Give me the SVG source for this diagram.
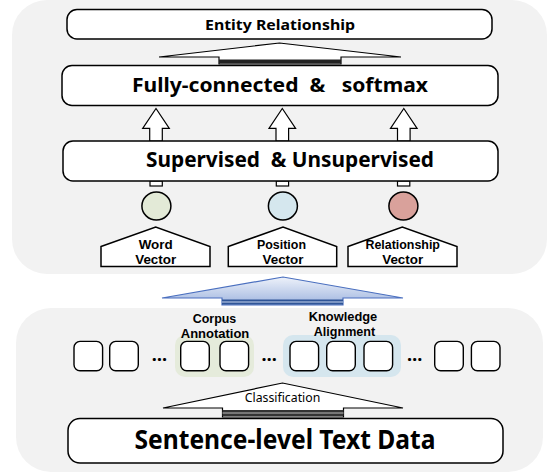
<svg xmlns="http://www.w3.org/2000/svg" width="551" height="475" viewBox="0 0 551 475">
  <defs>
    <style>
      .panel { fill: #f2f2f2; stroke: none; }
      .box { fill: #ffffff; stroke: #000000; stroke-width: 1.5; }
      .sq { fill: #ffffff; stroke: #000000; stroke-width: 1.4; }
      .arrow { fill: #ffffff; stroke: #000000; stroke-width: 1.2; stroke-linejoin: miter; }
      .t { font-family: "Noto Sans", "Open Sans", "Liberation Sans", sans-serif; fill: #000000; text-anchor: middle; }
      .b { font-weight: bold; }
      .lbl { font-family: "Liberation Sans", Arial, sans-serif; font-size: 13px; font-weight: bold; }
      .dots { font-size: 18px; font-weight: bold; }
      .pre { white-space: pre; }
    </style>
    <linearGradient id="blueFill" x1="0" y1="0" x2="0" y2="1">
      <stop offset="0" stop-color="#eef2fa"/>
      <stop offset="1" stop-color="#9fb5df"/>
    </linearGradient>
  </defs>

  <!-- background panels -->
  <rect class="panel" x="12" y="0" width="535" height="274" rx="35" ry="35"/>
  <rect class="panel" x="16" y="308" width="527" height="164" rx="35" ry="35"/>

  <!-- connectors -->
  <g id="connectors">
    <!-- Fully-connected -> Entity Relationship -->
    <polygon class="arrow" points="159,57 279.5,43 401,57 341,57 341,64 219,64 219,57"/>
    <rect x="219" y="59.5" width="122" height="4" fill="#222"/>
    <!-- Supervised -> Fully-connected -->
    <polygon class="arrow" points="156,108.5 169.3,128.3 162.3,128.3 162.3,141 149.7,141 149.7,128.3 142.7,128.3"/>
    <polygon class="arrow" points="282.3,108.5 295.6,128.3 288.6,128.3 288.6,141 276,141 276,128.3 269,128.3"/>
    <polygon class="arrow" points="403.8,108.5 417.1,128.3 410.1,128.3 410.1,141 397.5,141 397.5,128.3 390.5,128.3"/>
    <!-- stubs under Supervised box -->
    <rect class="arrow" x="150" y="181" width="12.3" height="5"/>
    <rect class="arrow" x="276.3" y="181" width="12.3" height="5"/>
    <rect class="arrow" x="397.5" y="181" width="12.3" height="5"/>
    <!-- bottom panel -> vectors (blue) -->
    <polygon points="162,298 283,277 403,298 343,298 343,305 222,305 222,298" fill="url(#blueFill)" stroke="#4a6fbf" stroke-width="1.2"/>
    <rect x="222" y="299.5" width="121" height="5" fill="#2f5597"/>
    <line x1="222" y1="302" x2="343" y2="302" stroke="#c9d6ee" stroke-width="1"/>
    <!-- Sentence-level -> tokens (Classification) -->
    <polygon class="arrow" points="163,408 282.5,383 403,408 343.5,408 343.5,417 222.5,417 222.5,408"/>
    <rect x="222.5" y="410" width="121" height="6" fill="#333"/>
    <line x1="222.5" y1="413" x2="343.5" y2="413" stroke="#bbb" stroke-width="1"/>
  </g>

  <g id="entity-relationship">
    <rect class="box" x="67" y="9.5" width="425" height="29.5" rx="10" ry="10"/>
    <text class="t b" x="280" y="30" font-size="14.5" textLength="150" lengthAdjust="spacingAndGlyphs">Entity Relationship</text>
  </g>

  <g id="fully-connected">
    <rect class="box" x="62" y="65.5" width="436" height="40" rx="10" ry="10"/>
    <text class="t b pre" x="280" y="92" font-size="19.5" textLength="296" lengthAdjust="spacingAndGlyphs" xml:space="preserve">Fully-connected  &amp;   softmax</text>
  </g>

  <g id="supervised">
    <rect class="box" x="63" y="141" width="435" height="40" rx="10" ry="10"/>
    <text class="t b pre" x="290" y="167" font-size="20.5" textLength="288" lengthAdjust="spacingAndGlyphs" xml:space="preserve">Supervised  &amp; Unsupervised</text>
  </g>

  <g id="word-vector">
    <ellipse cx="156.4" cy="206" rx="14.5" ry="14" fill="#e3ead7" stroke="#000" stroke-width="1.5"/>
    <polygon class="box" points="101,246.5 155.7,227 210,246.5 210,266.5 101,266.5" stroke-width="1.3"/>
    <text class="t lbl" x="155.7" y="248.5" textLength="34" lengthAdjust="spacingAndGlyphs">Word</text>
    <text class="t lbl" x="155.7" y="263.5" textLength="41" lengthAdjust="spacingAndGlyphs">Vector</text>
  </g>

  <g id="position-vector">
    <ellipse cx="282.9" cy="206" rx="14.5" ry="14" fill="#d5e7ee" stroke="#000" stroke-width="1.5"/>
    <polygon class="box" points="228.3,246.5 283,227 336.7,246.5 336.7,266.5 228.3,266.5" stroke-width="1.3"/>
    <text class="t lbl" x="281.5" y="248.5" textLength="49" lengthAdjust="spacingAndGlyphs">Position</text>
    <text class="t lbl" x="283" y="263.5" textLength="41" lengthAdjust="spacingAndGlyphs">Vector</text>
  </g>

  <g id="relationship-vector">
    <ellipse cx="403.4" cy="206" rx="14.5" ry="14" fill="#d9a19b" stroke="#000" stroke-width="1.5"/>
    <polygon class="box" points="348,246.5 402.3,227 457,246.5 457,266.5 348,266.5" stroke-width="1.3"/>
    <text class="t lbl" x="402.7" y="248.5" textLength="74.5" lengthAdjust="spacingAndGlyphs">Relationship</text>
    <text class="t lbl" x="402.7" y="263.5" textLength="41" lengthAdjust="spacingAndGlyphs">Vector</text>
  </g>

  <g id="corpus-annotation">
    <rect x="175" y="335" width="79" height="42" rx="10" ry="10" fill="#e5ebdb"/>
    <text class="t lbl" x="214.5" y="322.5" textLength="43.5" lengthAdjust="spacingAndGlyphs">Corpus</text>
    <text class="t lbl" x="215" y="337.5" textLength="68.5" lengthAdjust="spacingAndGlyphs">Annotation</text>
  </g>

  <g id="knowledge-alignment">
    <rect x="283" y="335" width="118" height="42" rx="10" ry="10" fill="#d5e6ee"/>
    <text class="t lbl" x="343" y="321" textLength="68.5" lengthAdjust="spacingAndGlyphs">Knowledge</text>
    <text class="t lbl" x="344.5" y="336" textLength="61.5" lengthAdjust="spacingAndGlyphs">Alignment</text>
  </g>

  <g id="tokens">
    <rect class="sq" x="74" y="341.4" width="28.6" height="29.4" rx="6" ry="6"/>
    <rect class="sq" x="109.7" y="341.4" width="28.6" height="29.4" rx="6" ry="6"/>
    <text class="t dots" x="159.5" y="360.5">…</text>
    <rect class="sq" x="180.7" y="341.4" width="28.6" height="29.4" rx="6" ry="6"/>
    <rect class="sq" x="220" y="341.4" width="28.6" height="29.4" rx="6" ry="6"/>
    <text class="t dots" x="269.3" y="360.5">…</text>
    <rect class="sq" x="290" y="341.4" width="28.6" height="29.4" rx="6" ry="6"/>
    <rect class="sq" x="326.7" y="341.4" width="28.6" height="29.4" rx="6" ry="6"/>
    <rect class="sq" x="364" y="341.4" width="28.6" height="29.4" rx="6" ry="6"/>
    <text class="t dots" x="414.7" y="360.5">…</text>
    <rect class="sq" x="434.7" y="341.4" width="28.6" height="29.4" rx="6" ry="6"/>
    <rect class="sq" x="471.4" y="341.4" width="28.6" height="29.4" rx="6" ry="6"/>
  </g>

  <g id="classification">
    <text class="t" x="282.5" y="402" font-size="13" textLength="75.5" lengthAdjust="spacingAndGlyphs">Classification</text>
  </g>

  <g id="sentence-level">
    <rect class="box" x="68" y="418.5" width="435" height="44.5" rx="12" ry="12"/>
    <text class="t b" x="285" y="448.5" font-size="27" textLength="301" lengthAdjust="spacingAndGlyphs">Sentence-level Text Data</text>
  </g>
</svg>
